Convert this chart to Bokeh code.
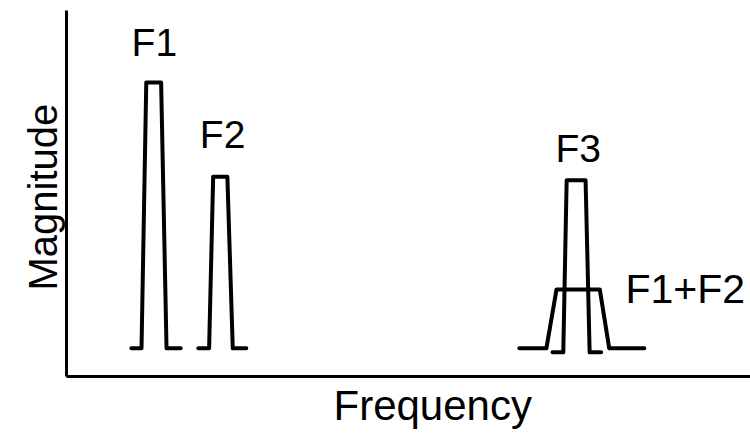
from bokeh.plotting import figure
from bokeh.models import Range1d, Label, FixedTicker, Title
from bokeh.embed import file_html
from bokeh.resources import INLINE

# Schematic spectrum (arbitrary units: frequency 0-101.2, magnitude 0-100)
f1_freq = [9.6, 11.1, 11.8, 14.0, 14.8, 16.9]
f1_mag = [7.7, 7.7, 80.3, 80.3, 7.7, 7.7]

f2_freq = [19.5, 21.1, 21.7, 23.8, 24.6, 26.6]
f2_mag = [7.7, 7.7, 54.6, 54.6, 7.7, 7.7]

f3_freq = [71.9, 73.5, 74.0, 76.8, 77.4, 79.1]
f3_mag = [6.6, 6.6, 53.6, 53.6, 6.6, 6.6]

f12_freq = [67.0, 71.0, 72.5, 78.9, 80.3, 85.5]
f12_mag = [7.7, 7.7, 23.8, 23.8, 7.7, 7.7]

peak_names = ["F1", "F2", "F3", "F1+F2"]
name_freq = [13.0, 23.1, 75.7, 82.7]
name_mag = [91.2, 66.1, 62.3, 24.0]

FONT = "Liberation Sans"

p = figure(width=750, height=435, output_backend="svg", toolbar_location=None,
           x_range=Range1d(0, 101.2), y_range=Range1d(0, 100),
           min_border_left=66, min_border_right=0, min_border_top=10, min_border_bottom=59)
p.grid.visible = False
p.outline_line_color = None
p.background_fill_color = "white"
p.border_fill_color = "white"

for ax in (p.xaxis[0], p.yaxis[0]):
    ax.ticker = FixedTicker(ticks=[])
    ax.axis_line_width = 3
    ax.axis_line_color = "black"
    ax.major_tick_line_color = None
    ax.minor_tick_line_color = None
    ax.major_label_text_font_size = "0px"

for xs, ys in [(f1_freq, f1_mag), (f2_freq, f2_mag), (f12_freq, f12_mag), (f3_freq, f3_mag)]:
    p.line(xs, ys, line_color="black", line_width=4, line_join="round", line_cap="round")

for name, fx, fy in zip(peak_names, name_freq, name_mag):
    align = "left" if name == "F1+F2" else "center"
    size = "41px" if name == "F1+F2" else "39px"
    p.add_layout(Label(x=fx, y=fy, text=name, text_align=align, text_baseline="alphabetic",
                       text_font=FONT, text_font_size=size, text_color="black"))

p.add_layout(Title(text="Frequency", align="left", offset=267, standoff=6,
                   text_font=FONT, text_font_size="42px", text_font_style="normal",
                   text_color="black"), "below")
p.add_layout(Title(text="Magnitude", align="left", offset=86, standoff=4,
                   text_font=FONT, text_font_size="40px", text_font_style="normal",
                   text_color="black"), "left")

open("out.html", "w").write(file_html(p, INLINE))
